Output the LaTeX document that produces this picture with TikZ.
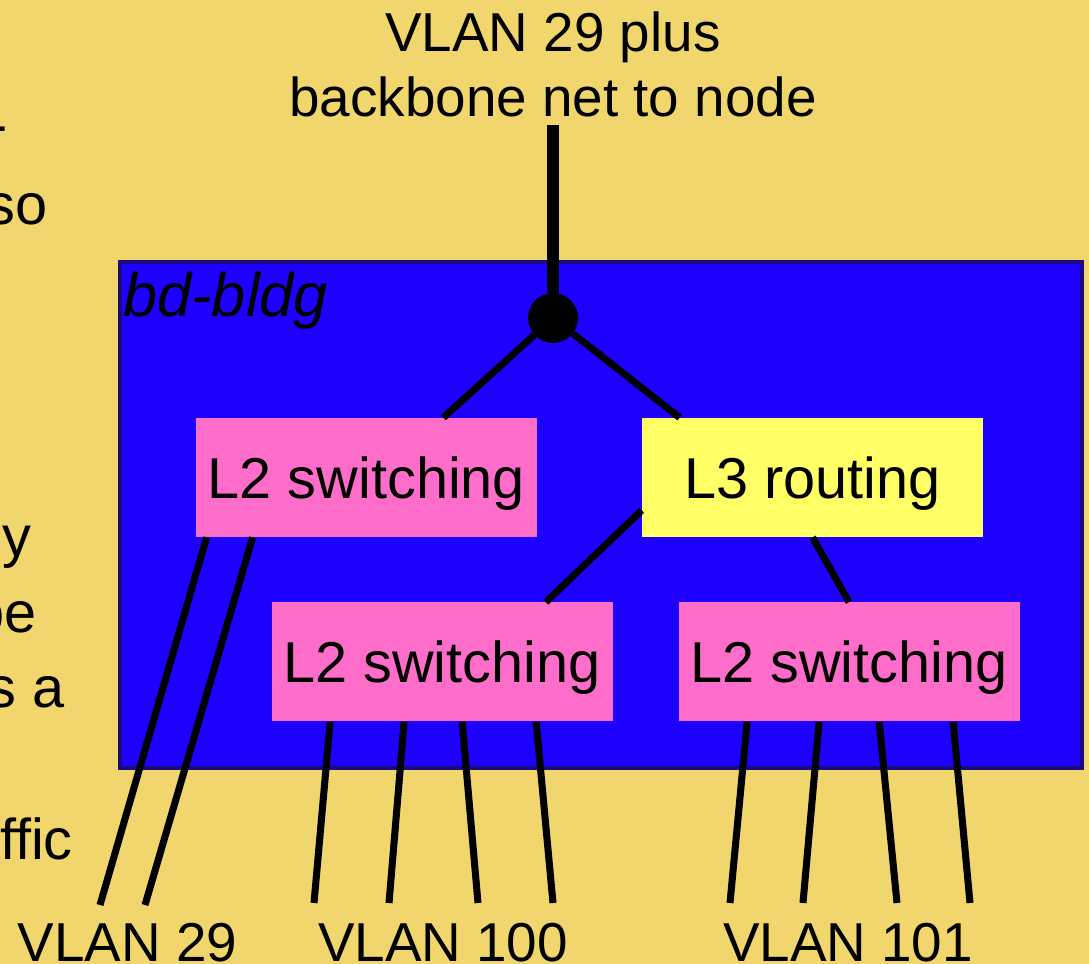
\documentclass[tikz,border=0pt]{standalone}
\usepackage{fontspec}
\setmainfont{Liberation Sans}
\usepackage{tikz}
\usetikzlibrary{calc}
\definecolor{SlideBg}{HTML}{F0D66C}
\definecolor{BldgBlue}{HTML}{1E00FF}
\definecolor{BldgEdge}{HTML}{1A0A80}
\definecolor{SwPink}{HTML}{FF6DCA}
\definecolor{RtYellow}{HTML}{FFFF66}

\begin{document}
\begin{tikzpicture}[x=1cm,y=1cm,
  wire/.style={line width=4pt},
  trunk/.style={line width=6.8pt},
  boxtext/.style={font=\fontsize{32.8}{38}\selectfont},
  l2box/.style={boxtext,fill=SwPink,minimum width=6.82cm,minimum height=2.38cm,inner sep=0pt,text depth=0pt},
  l3box/.style={l2box,fill=RtYellow},
  vlanlabel/.style={font=\fontsize{31.2}{37}\selectfont,anchor=base,inner sep=0pt},
  cuttext/.style={boxtext,anchor=base east,inner sep=0pt}]
\path[use as bounding box] (0,0) rectangle (21.78,19.28);
\fill[SlideBg] (0,0) rectangle (21.78,19.28);
% text of the slide, cut at the left edge
\node[cuttext] (cut0) at (0.16,16.38) {-};
\node[cuttext] (cut1) at (0.96,14.78) {so};
\node[cuttext] (cut2) at (0.64,8.14) {y};
\node[cuttext] (cut3) at (0.74,6.62) {be};
\node[cuttext] (cut4) at (1.30,5.12) {s a};
\node[cuttext] (cut5) at (1.46,2.08) {ffic};
% building
\node[draw=BldgEdge,fill=BldgBlue,line width=0.07cm,minimum width=19.24cm,minimum height=10.12cm,inner sep=0pt] (bldg) at (12.02,8.98) {};
\node[font=\fontsize{34.9}{40}\selectfont\itshape,anchor=base west,inner sep=0pt] (bldgname) at (2.46,12.94) {bd-bldg};
\node[align=center,font=\fontsize{31.2}{37}\selectfont,inner sep=0pt,outer sep=0.16cm,anchor=south] (uplink) at (11.06,16.78) {VLAN 29 plus\\backbone net to node};
\node[circle,fill=black,minimum size=1cm,inner sep=0pt] (hub) at (11.06,12.92) {};
\node[l2box] (sw1) at (7.33,9.73) {L2 switching};
\node[l3box] (rt) at (16.25,9.73) {L3 routing};
\node[l2box] (sw2) at (8.84,6.04) {L2 switching};
\node[l2box] (sw3) at (16.98,6.04) {L2 switching};
\draw[trunk] (uplink.south) -- (hub);
\draw[wire] (hub) -- ($(sw1.north east)+(-1.88,0)$);
\draw[wire] (hub) -- ($(rt.north west)+(0.76,0)$);
\draw[wire] ($(rt.south west)+(0,0.54)$) -- ($(sw2.north east)+(-1.34,0)$);
\draw[wire] (rt.south) -- (sw3.north);
% drops to the VLANs
\foreach \dx/\ex [count=\i] in {0.22/2.00, 1.14/2.90} {
  \coordinate (v29end\i) at (\ex,1.18);
  \draw[wire] ($(sw1.south west)+(\dx,0)$) -- (v29end\i);
}
\foreach \dx/\ex [count=\i] in {1.18/6.28, 2.66/7.78, 3.82/9.56, 5.30/11.06} {
  \coordinate (v100end\i) at (\ex,1.22);
  \draw[wire] ($(sw2.south west)+(\dx,0)$) -- (v100end\i);
}
\foreach \dx/\ex [count=\i] in {1.38/14.60, 2.82/16.06, 4.02/17.94, 5.50/19.40} {
  \coordinate (v101end\i) at (\ex,1.22);
  \draw[wire] ($(sw3.south west)+(\dx,0)$) -- (v101end\i);
}
\node[vlanlabel] (v29) at (2.55,0.04) {VLAN 29};
\node[vlanlabel] (v100) at (8.86,0.04) {VLAN 100};
\node[vlanlabel] (v101) at (16.96,0.04) {VLAN 101};
\end{tikzpicture}
\end{document}
